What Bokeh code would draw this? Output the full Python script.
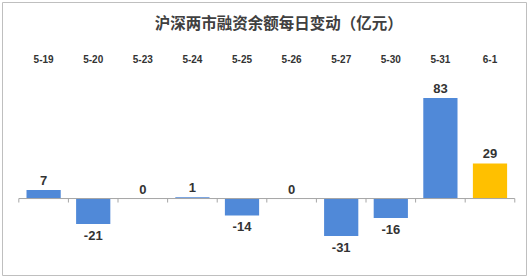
from bokeh.plotting import figure
from bokeh.models import ColumnDataSource, Range1d
from bokeh.core.properties import value
from bokeh.embed import file_html
from bokeh.resources import INLINE

title_text = "沪深两市融资余额每日变动（亿元）"
dates = ["5-19", "5-20", "5-23", "5-24", "5-25", "5-26", "5-27", "5-30", "5-31", "6-1"]
changes = [7, -21, 0, 1, -14, 0, -31, -16, 83, 29]
highlight = "6-1"

BLUE = "#5089D8"
GOLD = "#FFC000"
TEXT = "#333333"

n = len(dates)
xs = [i + 0.5 for i in range(n)]
colors = [GOLD if d == highlight else BLUE for d in dates]

p = figure(width=529, height=280, output_backend="svg", toolbar_location=None,
           x_axis_type=None, y_axis_type=None,
           x_range=Range1d(-0.329, 10.236), y_range=Range1d(-63.6, 162.0),
           min_border_left=2, min_border_right=3, min_border_top=2, min_border_bottom=5)
p.grid.visible = False
p.outline_line_color = "#BFBFBF"
p.outline_line_width = 1
p.background_fill_color = "white"
p.border_fill_color = "white"

src = ColumnDataSource(dict(x=xs, top=changes, color=colors, date=dates))
p.vbar(x="x", top="top", bottom=0, width=0.69, fill_color="color", line_color=None, source=src)

# baseline axis with ticks between categories
p.segment(x0=[0], y0=[0], x1=[n], y1=[0], line_color="#A6A6A6", line_width=1)
p.segment(x0=list(range(n + 1)), y0=[0] * (n + 1), x1=list(range(n + 1)), y1=[-3.3] * (n + 1),
          line_color="#A6A6A6", line_width=1)

# value labels
pos = [(x, v) for x, v in zip(xs, changes) if v >= 0]
neg = [(x, v) for x, v in zip(xs, changes) if v < 0]
psrc = ColumnDataSource(dict(x=[a for a, _ in pos], y=[b for _, b in pos], t=[str(b) for _, b in pos]))
nsrc = ColumnDataSource(dict(x=[a for a, _ in neg], y=[b for _, b in neg], t=[str(b) for _, b in neg]))
p.text(x="x", y="y", text="t", source=psrc, text_align="center", text_baseline="bottom",
       y_offset=-5, text_font=value("Liberation Sans"), text_font_style="bold",
       text_font_size="13px", text_color=TEXT)
p.text(x="x", y="y", text="t", source=nsrc, text_align="center", text_baseline="top",
       y_offset=7, text_font=value("Liberation Sans"), text_font_style="bold",
       text_font_size="13px", text_color=TEXT)

# category labels along the top
csrc = ColumnDataSource(dict(x=xs, y=[115.7] * n, t=dates))
p.text(x="x", y="y", text="t", source=csrc, text_align="center", text_baseline="middle",
       text_font=value("Liberation Sans"), text_font_style="bold", text_font_size="10px",
       text_color=TEXT)

# title
p.text(x=[n / 2 + 0.24], y=[145.5], text=[title_text], text_align="center", text_baseline="middle",
       text_font=value("Noto Sans CJK SC"), text_font_style="bold", text_font_size="15.5px",
       text_color="#404040")

open("out.html", "w").write(file_html(p, INLINE))
